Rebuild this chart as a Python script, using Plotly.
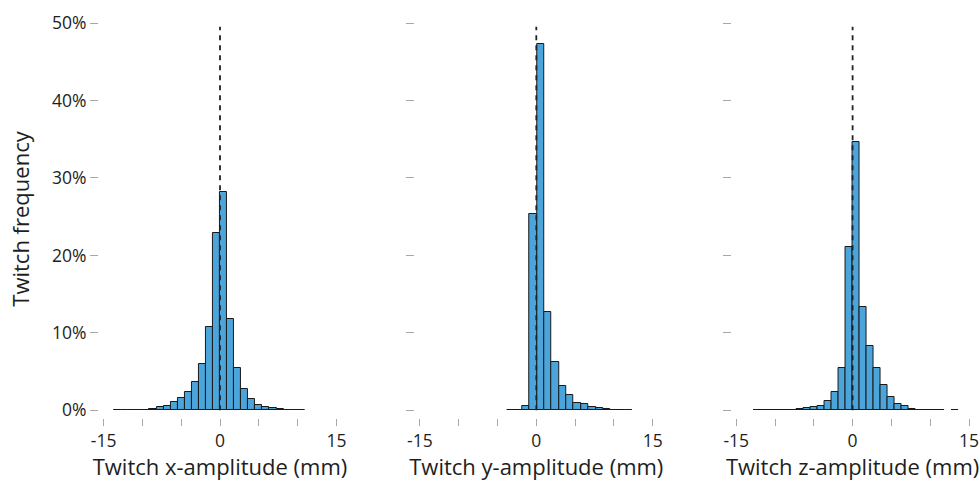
import numpy as np
import plotly.graph_objects as go

# ---------------- data (percent of twitches per bin) ----------------
x_titles = ["Twitch x-amplitude (mm)", "Twitch y-amplitude (mm)", "Twitch z-amplitude (mm)"]
y_title = "Twitch frequency"

# bin width (mm) and left edge of first bin (mm) for each panel
bin_width = [0.91, 0.949, 0.908]
first_edge = [-15 * 0.91, -3.72, -14 * 0.908]

freq_x = [0.02, 0.02, 0.05, 0.08, 0.1, 0.2, 0.4, 0.52, 1.07, 1.55, 2.3, 3.6, 6.0, 10.8, 22.9,
          28.2, 11.8, 5.4, 2.8, 1.46, 0.65, 0.47, 0.25, 0.15, 0.1, 0.05, 0.03]
freq_y = [0.01, 0.02, 0.5, 25.4, 47.3, 12.7, 6.3, 3.2, 2.0, 1.0, 0.78, 0.43, 0.26, 0.13,
          0.08, 0.05, 0.03]
freq_z = [0.01, 0.01, 0.02, 0.03, 0.04, 0.06, 0.12, 0.3, 0.4, 0.62, 1.2, 2.4, 5.5, 21.1,
          34.6, 13.4, 8.3, 5.4, 3.3, 1.7, 0.78, 0.52, 0.15, 0.1, 0.05, 0.03, 0.02, None, 0.02]
freqs = [freq_x, freq_y, freq_z]

y_tick_vals = [0, 0.1, 0.2, 0.3, 0.4, 0.5]
x_tick_vals = [-15, -10, -5, 0, 5, 10, 15]
x_tick_text = ["-15", "", "", "0", "", "", "15"]

# ---------------- styling / layout ----------------
W, H = 980, 481
FONT = "Open Sans"
TXT = "#1e1e1e"
TICKC = "#a8a8a8"
BAR = "#4ba5db"

zeros_px = [220.0, 536.3, 852.6]   # pixel position of x = 0 in each panel
px_per_unit = 7.76
half_range = 15.6
y_top_px, y_bot_px = 20.0, 418.0
y0_px = 410.3
px_per_pct = 7.746
y_range = [-(y_bot_px - y0_px) / px_per_pct / 100, (y0_px - y_top_px) / px_per_pct / 100]
y_domain = [(H - y_bot_px) / H, (H - y_top_px) / H]

fig = go.Figure()
layout = dict(
    width=W, height=H,
    margin=dict(l=0, r=0, t=0, b=0, autoexpand=False),
    paper_bgcolor="white", plot_bgcolor="white",
    showlegend=False, bargap=0,
    font=dict(family=FONT, color=TXT),
)
shapes = []
for i in range(3):
    sfx = "" if i == 0 else str(i + 1)
    w = bin_width[i]
    f = freqs[i]
    centers = first_edge[i] + w * (np.arange(len(f)) + 0.5)
    vals = [None if v is None else v / 100 for v in f]
    fig.add_trace(go.Bar(
        x=centers, y=vals, width=w,
        marker=dict(color=BAR, line=dict(color="#1a1a1a", width=1)),
        xaxis="x" + sfx, yaxis="y" + sfx,
        hovertemplate="%{x:.2f} mm: %{y:.2%}<extra></extra>",
    ))
    z = zeros_px[i]
    dom = [(z - half_range * px_per_unit) / W, (z + half_range * px_per_unit) / W]
    layout["xaxis" + sfx] = dict(
        domain=dom, range=[-half_range, half_range], anchor="y" + sfx,
        automargin=False,
        showgrid=False, zeroline=False, showline=False,
        tickmode="array", tickvals=x_tick_vals, ticktext=x_tick_text,
        ticks="outside", ticklen=7, tickwidth=1, tickcolor=TICKC,
        tickfont=dict(size=17.5, color=TXT, family=FONT),
        title=dict(text=x_titles[i], font=dict(size=22, color=TXT, family=FONT), standoff=9),
    )
    layout["yaxis" + sfx] = dict(
        domain=y_domain, range=y_range, anchor="x" + sfx,
        automargin=False,
        showgrid=False, zeroline=False, showline=False,
        tickmode="array", tickvals=y_tick_vals, tickformat=".0%",
        ticks="outside", ticklen=8, tickwidth=1, tickcolor=TICKC,
        showticklabels=(i == 0),
        tickfont=dict(size=17.5, color=TXT, family=FONT),
        title=dict(text=y_title if i == 0 else "", font=dict(size=22, color=TXT, family=FONT), standoff=16),
    )
    shapes.append(dict(type="line", xref="x" + sfx, yref="y" + sfx,
                       x0=0, x1=0, y0=0, y1=0.495,
                       line=dict(color="#222222", width=1.8, dash="5px,5px"), layer="above"))
layout["shapes"] = shapes
fig.update_layout(**layout)
fig.write_html("out.html")
